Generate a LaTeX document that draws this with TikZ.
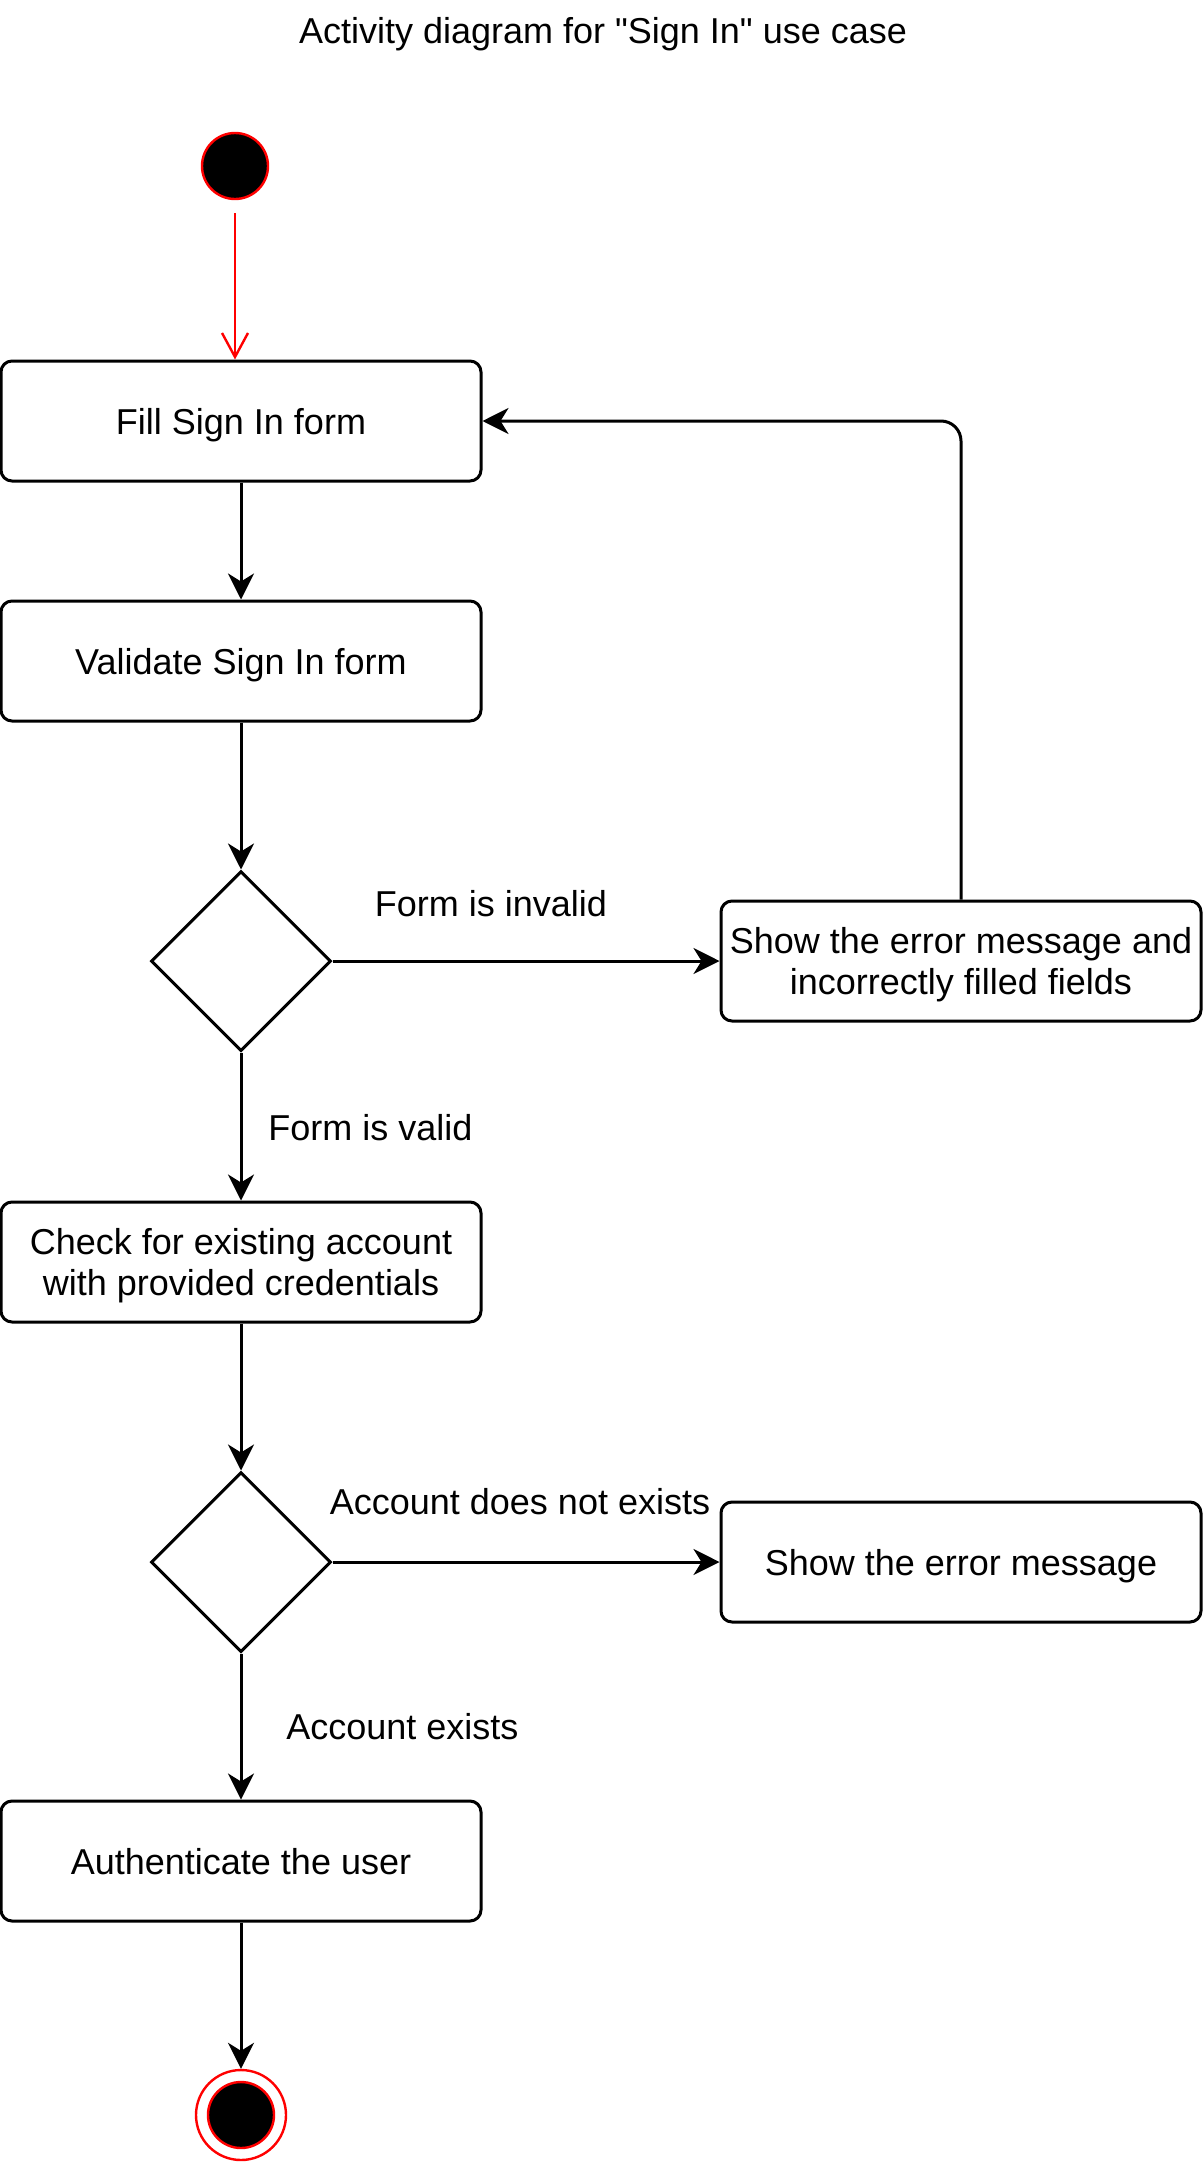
\documentclass[tikz,border=0pt]{standalone}
\usepackage{fontspec}
\setmainfont{Liberation Sans}[Ligatures=TeXOff]
\usetikzlibrary{shapes.geometric,arrows.meta}

\begin{document}
\begin{tikzpicture}[x=0.5pt, y=-0.5pt,
  every node/.style={font=\fontsize{18}{20.5}\selectfont},
  action/.style={draw, rounded corners=5.5pt, line width=1.5pt, minimum width=240pt, minimum height=60pt, align=center, inner sep=2pt, text depth=-1.7pt},
  decision/.style={draw, diamond, aspect=1, line width=1.5pt, minimum size=90pt, inner sep=0pt},
  startdot/.style={circle, draw=red, fill=black, line width=1.2pt, minimum size=33pt, inner sep=0pt},
  endring/.style={circle, draw=red, line width=1.2pt, minimum size=45pt, inner sep=0pt},
  flow/.style={line width=1.5pt, -{Stealth[length=13pt,width=13pt,inset=4pt]}},
  startflow/.style={draw=red, line width=1.2pt, -{Straight Barb[length=12pt,width=13pt]}, shorten <=6.5pt},
  lbl/.style={inner sep=1pt}]

\useasboundingbox (0,0) rectangle (1203,2163);

% Title
\node (title) at (603,34) {Activity diagram for "Sign In" use case};

% Initial node
\node[startdot] (start) at (235,166) {};

% Actions and decisions
\node[action] (fill) at (241,421) {Fill Sign In form};
\node[action] (validate) at (241,661) {Validate Sign In form};
\node[decision] (formok) at (241,961) {};
\node[action] (showerr) at (961,961) {Show the error message and\\incorrectly filled fields};
\node[action] (check) at (241,1262) {Check for existing account\\with provided credentials};
\node[decision] (accok) at (241,1562) {};
\node[action] (noacc) at (961,1562) {Show the error message};
\node[action] (auth) at (241,1861) {Authenticate the user};

% Final node
\node[endring] (final) at (241,2115) {};
\node[startdot] (finaldot) at (241,2115) {};

% Edge labels
\node[lbl] (invalidlbl) at (491,904) {Form is invalid};
\node[lbl, anchor=west] (validlbl) at (266,1128) {Form is valid};
\node[lbl] (nolbl) at (520,1502) {Account does not exists};
\node[lbl, anchor=west] (yeslbl) at (284,1727) {Account exists};

% Connectors
\draw[startflow] (start) -- (start |- fill.north);
\draw[flow] (fill) -- (validate);
\draw[flow] (validate) -- (formok);
\draw[flow] (formok) -- (showerr);
\draw[flow, rounded corners=10pt] (showerr.north) |- (fill.east);
\draw[flow] (formok) -- (check);
\draw[flow] (check) -- (accok);
\draw[flow] (accok) -- (noacc);
\draw[flow] (accok) -- (auth);
\draw[flow] (auth) -- (final);

\end{tikzpicture}
\end{document}
